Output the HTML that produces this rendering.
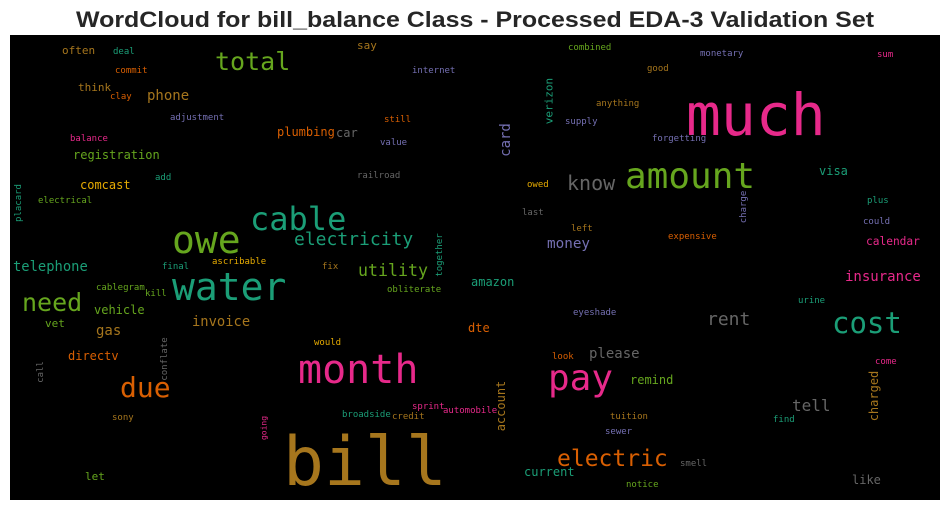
<!DOCTYPE html>
<html><head><meta charset="utf-8"><style>
html,body{margin:0;padding:0;background:#fff;width:950px;height:511px;overflow:hidden}
svg text.w{font-family:"DejaVu Sans Mono","Liberation Mono",monospace}
</style></head><body>
<svg id="chart" width="950" height="511" viewBox="0 0 950 511" xmlns="http://www.w3.org/2000/svg">
<text x="475" y="27" text-anchor="middle" font-family="Liberation Sans, sans-serif" font-weight="bold" font-size="22" fill="#262626" textLength="798" lengthAdjust="spacingAndGlyphs">WordCloud for bill_balance Class - Processed EDA-3 Validation Set</text>
<rect x="10" y="35" width="930" height="465" fill="#000"/>
<g id="words"></g>
</svg>
<script>
const words = ["bill","much","water","month","pay","amount","owe","cable","cost","due","need","total","electric","electricity","utility","know","rent","tell","insurance","calendar","money","invoice","please","telephone","phone","often","deal","commit","think","clay","adjustment","plumbing","balance","registration","add","comcast","electrical","final","ascribable","fix","cablegram","kill","vehicle","vet","gas","directv","sony","let","would","say","combined","internet","anything","still","supply","car","value","railroad","owed","last","left","obliterate","amazon","eyeshade","dte","look","sprint","automobile","broadside","credit","current","remind","tuition","sewer","monetary","sum","good","forgetting","visa","plus","could","expensive","urine","come","find","smell","notice","like"];
const xs = [283,686,172,298,548,625,172,250,832,120,22,215,557,294,358,567,707,792,845,866,547,192,589,13,147,62,113,115,78,110,170,277,70,73,155,80,38,162,212,322,96,145,94,45,96,68,112,85,314,357,568,412,596,384,565,336,380,357,527,522,571,387,471,573,468,552,412,443,342,392,524,630,610,605,700,877,647,652,819,867,863,668,798,875,773,680,626,852];
const ys = [485,135,300,383,390,188,253,230,333,397,311,70,466,245,276,190,325,411,281,245,248,326,358,271,100,54,54,73,91,99,120,136,141,159,180,189,203,269,264,269,290,296,314,327,335,360,420,480,345,49,50,73,106,122,124,137,145,178,187,215,231,292,286,315,332,359,409,413,417,419,476,384,419,434,56,57,71,141,175,203,224,239,303,364,422,466,487,484];
const sizes = [68,58,38,40,36,36,38,32,29,28,25,25,23,18,16.6,20,18,16,14,11.2,14.3,13.8,14,13.8,14,11,9,9,11,9,9,12,9,12,9,12,9,9,9,9,9,9,12,11,14,12,9,11,9,11,9,9,9,9,9,12,9,9,9,9,9,9,12,9,12,9,9,9,9,9,12,12,9,9,9,9,9,9,12,9,9,9,9,9,9,9,9,12];
const colors = ["#a6761d","#e7298a","#1b9e77","#e7298a","#e7298a","#66a61e","#66a61e","#1b9e77","#1b9e77","#d95f02","#66a61e","#66a61e","#d95f02","#1b9e77","#66a61e","#666666","#666666","#666666","#e7298a","#e7298a","#7570b3","#a6761d","#666666","#1b9e77","#a6761d","#a6761d","#1b9e77","#d95f02","#a6761d","#d95f02","#7570b3","#d95f02","#e7298a","#66a61e","#1b9e77","#e6ab02","#66a61e","#1b9e77","#e6ab02","#a6761d","#66a61e","#66a61e","#66a61e","#66a61e","#a6761d","#d95f02","#a6761d","#66a61e","#e6ab02","#a6761d","#66a61e","#7570b3","#a6761d","#d95f02","#7570b3","#666666","#7570b3","#666666","#e6ab02","#666666","#a6761d","#66a61e","#1b9e77","#7570b3","#d95f02","#d95f02","#e7298a","#e7298a","#1b9e77","#a6761d","#1b9e77","#66a61e","#a6761d","#7570b3","#7570b3","#e7298a","#a6761d","#7570b3","#1b9e77","#1b9e77","#7570b3","#d95f02","#1b9e77","#e7298a","#1b9e77","#666666","#66a61e","#666666"];
// vertical words: center positions
const vWords = ["card","verizon","placard","call","conflate","going","together","account","charge","charged"];
const vCx = [506,549,19,41,165,264,440,501,744,874];
const vCy = [140,101,203,372,359,428,255,406,207,396];
const vSizes = [14,11,9,9,9,8,9,12,9,12];
const vColors = ["#7570b3","#1b9e77","#1b9e77","#666666","#666666","#e7298a","#1b9e77","#a6761d","#7570b3","#a6761d"];

const g = document.getElementById('words');
const NS = "http://www.w3.org/2000/svg";
for (let i = 0; i < words.length; i++) {
  const t = document.createElementNS(NS, 'text');
  t.setAttribute('class', 'w');
  t.setAttribute('x', xs[i]);
  t.setAttribute('y', ys[i]);
  t.setAttribute('font-size', sizes[i]);
  t.setAttribute('fill', colors[i]);
  
  
  t.textContent = words[i];
  g.appendChild(t);
}
for (let i = 0; i < vWords.length; i++) {
  const t = document.createElementNS(NS, 'text');
  t.setAttribute('class', 'w');
  t.setAttribute('x', vCx[i]);
  t.setAttribute('y', vCy[i]);
  t.setAttribute('font-size', vSizes[i]);
  t.setAttribute('fill', vColors[i]);
  t.setAttribute('text-anchor', 'middle');
  t.setAttribute('dominant-baseline', 'central');
  t.setAttribute('transform', 'rotate(-90 ' + vCx[i] + ' ' + vCy[i] + ')');
  
  
  t.textContent = vWords[i];
  g.appendChild(t);
}
</script>
</body></html>
